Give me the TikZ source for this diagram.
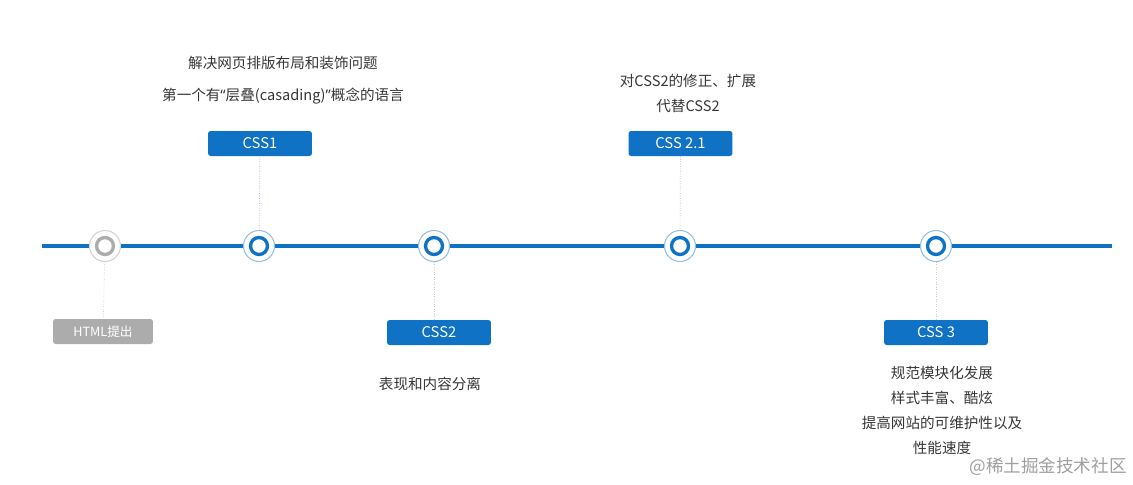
\documentclass[tikz,border=0pt]{standalone}
\usepackage{fontspec}
\setmainfont{Noto Sans CJK SC}
\newfontfamily\latinfont{Noto Sans}
\usetikzlibrary{positioning}

\definecolor{lineblue}{RGB}{16,114,196}
\definecolor{ringblue}{RGB}{150,190,225}
\definecolor{boxgray}{RGB}{172,172,172}
\definecolor{txtgray}{RGB}{55,55,55}

\begin{document}
\begin{tikzpicture}[x=0.02cm, y=-0.02cm,
  tag/.style={rectangle, rounded corners=1.5pt, fill=lineblue, text=white, minimum width=2.08cm, minimum height=0.5cm, inner sep=0pt, font=\fontsize{8.4}{9}\selectfont},
  ring/.style={circle, draw=ringblue, line width=0.6pt, fill=white, minimum size=0.62cm, inner sep=0pt},
  dot/.style={circle, draw=lineblue, line width=1.9pt, minimum size=0.34cm, inner sep=0pt},
  stem/.style={densely dotted, line width=0.4pt, draw=ringblue},
  note/.style={font=\fontsize{8.3}{14.2}\selectfont, text=txtgray, align=center},
]
\useasboundingbox (0,0) rectangle (1133,484);

% === Timeline axis ===
\coordinate (ax0) at (42,246);
\coordinate (ax1) at (1112,246);
\draw[lineblue, line width=2.2pt] (ax0) -- (ax1);

% === Milestones on the axis ===
\node[ring, draw=gray!35] (m0) at (105,246) {};
\node[dot, draw=boxgray] at (m0) {};
\node[ring] (m1) at (259,246) {};
\node[dot] at (m1) {};
\node[ring] (m2) at (434,246) {};
\node[dot] at (m2) {};
\node[ring] (m3) at (680,246) {};
\node[dot] at (m3) {};
\node[ring] (m4) at (936,246) {};
\node[dot] at (m4) {};

% === Tags ===
\node[tag, fill=boxgray, minimum width=2.0cm, font=\fontsize{7.2}{8}\selectfont] (html) at (103,331.5) {HTML提出};
\node[tag] (css1) at (260,143.5) {CSS1};
\node[tag] (css2) at (439,332.5) {CSS2};
\node[tag] (css21) at (680.5,143.5) {CSS 2.1};
\node[tag] (css3) at (936,332.5) {CSS 3};

\draw[stem, draw=gray!40] (m0) -- (html);
\draw[stem] (css1) -- (m1);
\draw[stem, draw=gray!40] (m2) -- (m2 |- css2.north);
\draw[stem] (css21) -- (m3);
\draw[stem, draw=gray!40] (m4) -- (css3);

% === Descriptions ===
\node[note] (d1) at (283,80) {解决网页排版布局和装饰问题\\[3.9pt]第一个有{\latinfont“}层叠(casading){\latinfont”}概念的语言};
\node[note] (d2) at (430,384) {表现和内容分离};
\node[note] (d21) at (688,93.5) {对CSS2的修正、扩展\\代替CSS2};
\node[note] (d3) at (942,410) {规范模块化发展\\样式丰富、酷炫\\提高网站的可维护性以及\\性能速度};

\node[font=\fontsize{10}{12}\selectfont, text=gray!75] (mark) at (1048,467) {@稀土掘金技术社区};

\end{tikzpicture}
\end{document}
